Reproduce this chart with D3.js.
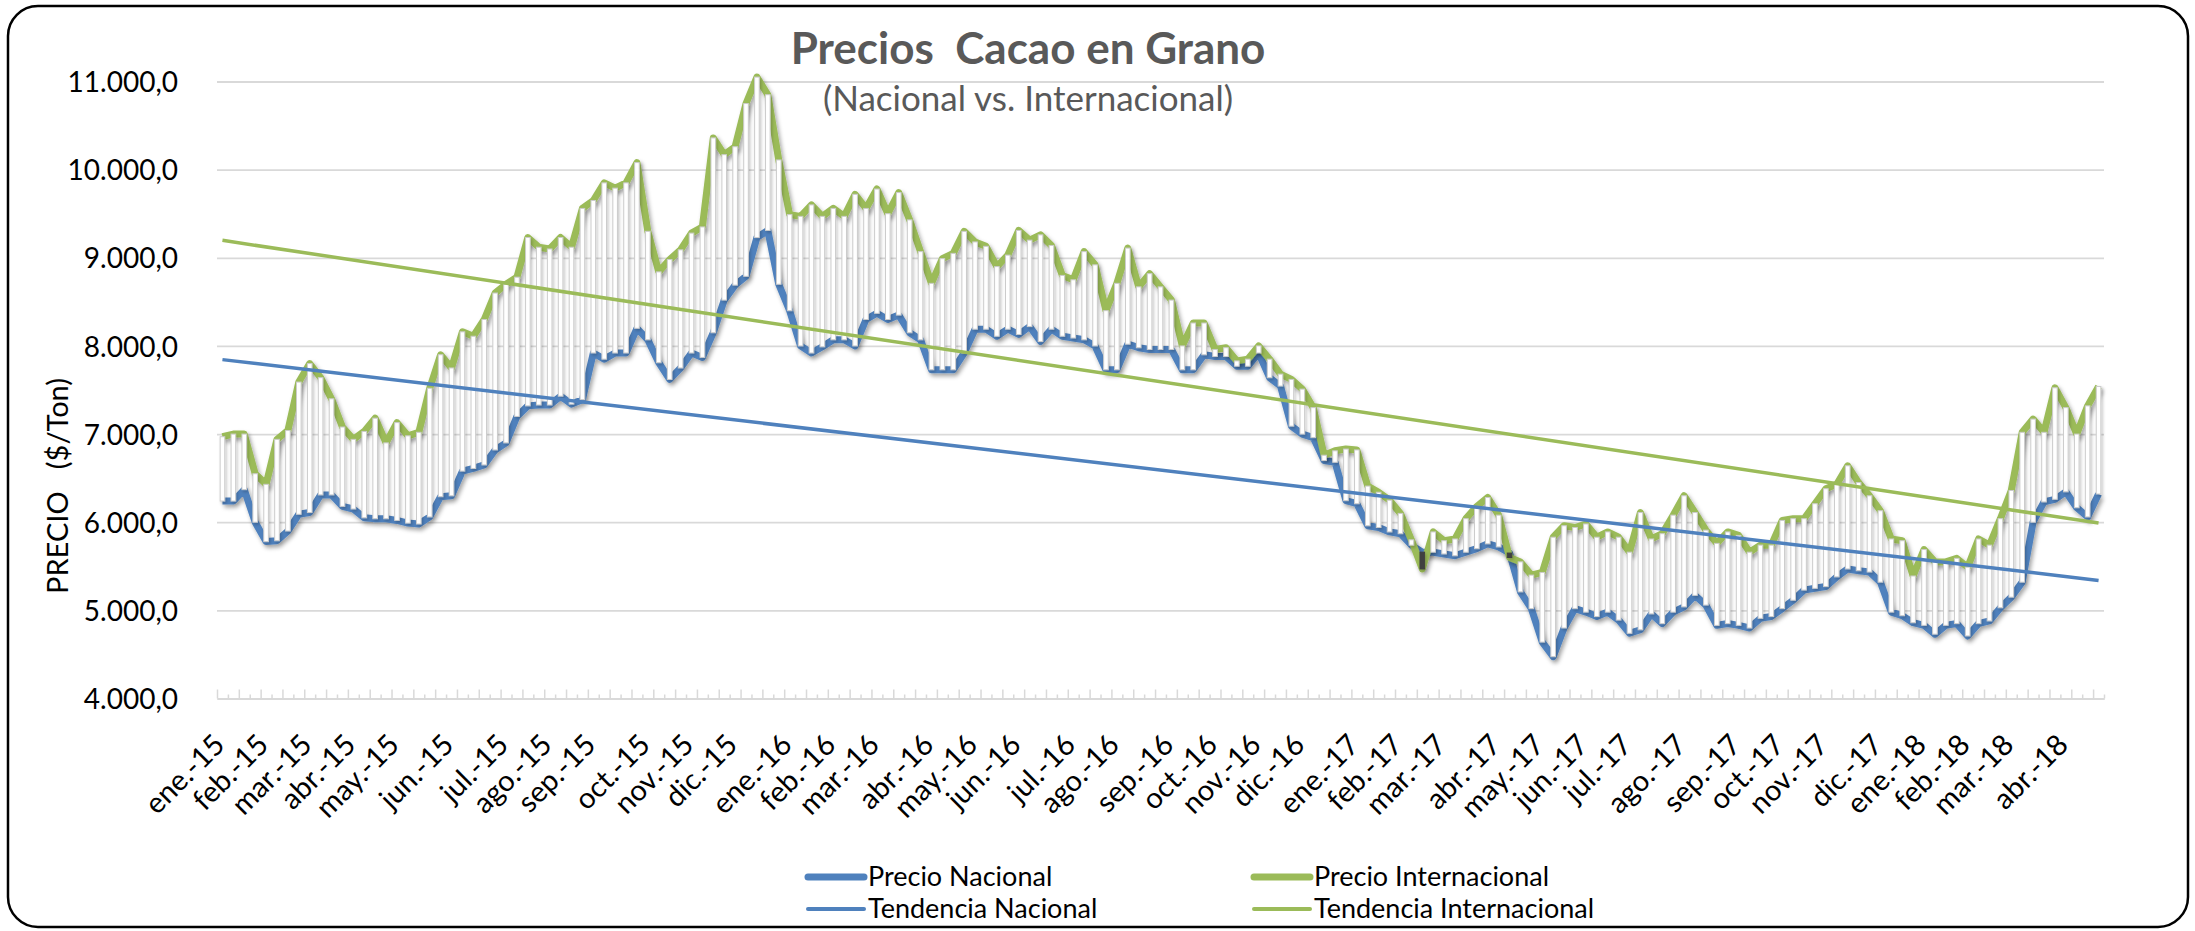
<!DOCTYPE html>
<html>
<head>
<meta charset="utf-8">
<script src="https://cdn.jsdelivr.net/npm/d3@7"></script>
<style>
  body { margin: 0; background: #fff; }
  svg { display: block; font-family: Lato, "Open Sans", sans-serif; }
</style>
</head>
<body>
<svg id="cacao" width="2195" height="931"></svg>
<script>
// month labels shown on the axis (first week of each month)
const months = [
    "ene.-15", "feb.-15", "mar.-15", "abr.-15", "may.-15", "jun.-15", "jul.-15", "ago.-15", "sep.-15", "oct.-15", "nov.-15", "dic.-15",
    "ene.-16", "feb.-16", "mar.-16", "abr.-16", "may.-16", "jun.-16", "jul.-16", "ago.-16", "sep.-16", "oct.-16", "nov.-16", "dic.-16",
    "ene.-17", "feb.-17", "mar.-17", "abr.-17", "may.-17", "jun.-17", "jul.-17", "ago.-17", "sep.-17", "oct.-17", "nov.-17", "dic.-17",
    "ene.-18", "feb.-18", "mar.-18", "abr.-18"];

// weekly points per month
const weeksPerMonth = [
    4, 4, 4, 4, 5, 5, 4, 4, 5, 4, 4, 5,
    4, 4, 5, 4, 4, 5, 4, 5, 4, 4, 4, 5,
    4, 4, 5, 4, 4, 4, 5, 5, 4, 4, 5, 4,
    4, 4, 5, 4];

const precioNacional = [
    6240, 6240, 6370, 6000, 5780, 5790, 5900, 6090, 6110, 6310,
    6310, 6180, 6150, 6050, 6040, 6040, 6020, 5990, 5980, 6060,
    6290, 6300, 6580, 6610, 6650, 6820, 6900, 7200, 7320, 7330,
    7330, 7430, 7340, 7390, 7920, 7850, 7920, 7920, 8200, 8070,
    7810, 7620, 7750, 7920, 7870, 8150, 8520, 8690, 8790, 9230,
    9310, 8700, 8400, 8000, 7920, 7990, 8070, 8070, 8000, 8300,
    8370, 8300, 8350, 8150, 8070, 7730, 7730, 7730, 7920, 8190,
    8190, 8110, 8190, 8130, 8220, 8050, 8190, 8110, 8090, 8070,
    8000, 7730, 7730, 8020, 7980, 7960, 7960, 7960, 7730, 7730,
    7900, 7880, 7880, 7770, 7770, 7920, 7640, 7545, 7090, 7000,
    6960, 6700, 6680, 6245, 6210, 5960, 5940, 5890, 5870, 5740,
    5660, 5660, 5640, 5620, 5660, 5700, 5755, 5720, 5650, 5210,
    5020, 4640, 4475, 4800, 5020, 4980, 4930, 4980, 4890, 4740,
    4780, 4960, 4850, 4980, 5040, 5170, 5060, 4830, 4850, 4830,
    4800, 4910, 4930, 5020, 5115, 5230, 5250, 5270, 5380, 5470,
    5450, 5435, 5320, 4980, 4940, 4860, 4830, 4730, 4830, 4850,
    4710, 4850, 4880, 5030, 5150, 5320, 6000, 6230, 6260, 6345,
    6165, 6060, 6320];

const precioInternacional = [
    6970, 7000, 7000, 6550, 6430, 6940, 7040, 7590, 7800, 7640,
    7400, 7080, 6940, 7030, 7180, 6900, 7130, 6980, 7020, 7520,
    7900, 7750, 8160, 8110, 8300, 8600, 8700, 8780, 9230, 9120,
    9100, 9230, 9120, 9560, 9650, 9850, 9790, 9850, 10080, 9300,
    8840, 8980, 9090, 9280, 9350, 10360, 10170, 10260, 10750, 11050,
    10850, 10110, 9490, 9470, 9600, 9470, 9560, 9470, 9720, 9560,
    9780, 9500, 9740, 9430, 9070, 8710, 8990, 9050, 9300, 9180,
    9130, 8900, 9030, 9310, 9200, 9260, 9140, 8800, 8750, 9070,
    8920, 8400, 8710, 9110, 8670, 8820, 8670, 8520, 8000, 8260,
    8260, 7960, 7980, 7830, 7850, 8000, 7850, 7680, 7620, 7510,
    7300, 6760, 6810, 6830, 6820, 6410, 6340, 6250, 6100, 5800,
    5470, 5890, 5790, 5810, 6040, 6180, 6280, 6080, 5600, 5550,
    5400, 5430, 5830, 5960, 5940, 5980, 5830, 5890, 5830, 5660,
    6110, 5810, 5870, 6080, 6300, 6110, 5910, 5760, 5890, 5850,
    5660, 5740, 5740, 6020, 6040, 6040, 6210, 6380, 6430, 6640,
    6450, 6300, 6130, 5810, 5790, 5390, 5690, 5550, 5550, 5590,
    5490, 5810, 5740, 6040, 6360, 7020, 7170, 7020, 7525, 7300,
    7000, 7320, 7540];

const yTicks = [4000, 5000, 6000, 7000, 8000, 9000, 10000, 11000];

const blue = "#4f81bd";
const green = "#9bbb59";
const font = "Lato, 'Open Sans', sans-serif";

let margin = {top: 81.5, right: 91, bottom: 232.5, left: 217};
let width = 2195 - margin.left - margin.right;
let height = 931 - margin.top - margin.bottom;

let svg = d3.select("#cacao");

let defs = svg.append("defs");
defs.append("filter").attr("id", "shadow")
    .attr("x", "-10%").attr("y", "-10%").attr("width", "120%").attr("height", "130%")
    .append("feDropShadow")
    .attr("dx", 2).attr("dy", 3).attr("stdDeviation", 2)
    .attr("flood-color", "#000").attr("flood-opacity", 0.35);
defs.append("filter").attr("id", "barShadow")
    .attr("x", "-10%").attr("y", "-10%").attr("width", "120%").attr("height", "130%")
    .append("feDropShadow")
    .attr("dx", 1.5).attr("dy", 2).attr("stdDeviation", 1.5)
    .attr("flood-color", "#000").attr("flood-opacity", 0.22);

// outer frame
svg.append("rect")
    .attr("x", 8).attr("y", 6)
    .attr("width", 2180).attr("height", 921)
    .attr("rx", 30).attr("ry", 30)
    .attr("fill", "white")
    .attr("stroke", "black")
    .attr("stroke-width", 2.5);

// one entry per week, label only on the first week of the month
let weeks = [];
months.forEach((m, mi) => {
    for (let w = 0; w < weeksPerMonth[mi]; w++) {
        weeks.push({idx: weeks.length, label: w === 0 ? m : ""});
    }
});

let g = svg.append("g")
    .attr("transform", `translate(${margin.left}, ${margin.top})`);

let x = d3.scaleBand()
    .domain(d3.range(weeks.length))
    .range([0, width])
    .padding(0);
let xc = i => x(i) + x.bandwidth() / 2;
let xEdge = d3.scaleLinear().domain([0, weeks.length]).range([0, width]);

let y = d3.scaleLinear()
    .domain([4000, 11000])
    .range([height, 0]);

// gridlines
let grid = g.append("g")
    .call(d3.axisLeft(y).tickValues(yTicks.slice(1)).tickSize(-width).tickFormat(""));
grid.select(".domain").remove();
grid.selectAll("line").attr("stroke", "#d9d9d9").attr("stroke-width", 1.8);

// y labels
let loc = d3.formatLocale({decimal: ",", thousands: ".", grouping: [3], currency: ["$", ""]});
let fmt = loc.format(",.1f");
let yAxis = g.append("g")
    .attr("transform", "translate(-39,0)")
    .call(d3.axisLeft(y).tickValues(yTicks).tickSize(0).tickPadding(0).tickFormat(fmt))
    .attr("font-family", font);
yAxis.select(".domain").remove();
yAxis.selectAll("text")
    .style("font-size", "28px")
    .attr("fill", "#000")
    .attr("dy", "0.36em");

// x axis with alternating tick marks
let major = g.append("g")
    .attr("transform", `translate(0,${height})`)
    .call(d3.axisTop(xEdge).tickValues(d3.range(0, weeks.length + 1, 2)).tickSize(9).tickSizeOuter(0).tickFormat(""));
let minor = g.append("g")
    .attr("transform", `translate(0,${height})`)
    .call(d3.axisTop(xEdge).tickValues(d3.range(1, weeks.length + 1, 2)).tickSize(4).tickSizeOuter(0).tickFormat(""));
[major, minor].forEach(a => {
    a.selectAll("line").attr("stroke", "#d9d9d9").attr("stroke-width", 1.5);
    a.select(".domain").attr("stroke", "#d9d9d9").attr("stroke-width", 2.2);
});

let xLabels = g.append("g")
    .attr("transform", `translate(0,${height})`)
    .call(d3.axisBottom(x)
        .tickValues(weeks.filter(d => d.label).map(d => d.idx))
        .tickFormat(i => weeks[i].label)
        .tickSize(0))
    .attr("font-family", font);
xLabels.select(".domain").remove();
xLabels.selectAll("text")
    .style("font-size", "29px")
    .attr("fill", "#000")
    .attr("text-anchor", "end")
    .attr("x", 0).attr("y", 0).attr("dy", 0)
    .attr("transform", "translate(4,48) rotate(-45)");

// price lines
let line = d3.line()
    .x((d, i) => xc(i))
    .y(d => y(d));

g.append("path")
    .datum(precioNacional)
    .attr("d", line)
    .attr("fill", "none")
    .attr("stroke", blue)
    .attr("stroke-width", 7)
    .attr("stroke-linejoin", "round")
    .attr("filter", "url(#shadow)");

g.append("path")
    .datum(precioInternacional)
    .attr("d", line)
    .attr("fill", "none")
    .attr("stroke", green)
    .attr("stroke-width", 7)
    .attr("stroke-linejoin", "round")
    .attr("filter", "url(#shadow)");

// up / down bars between the two series
let barW = 4.6;
g.append("g")
    .attr("filter", "url(#barShadow)")
    .selectAll("rect")
    .data(precioNacional.map((v, i) => ({i: i, nac: v, int: precioInternacional[i]})))
    .join("rect")
    .attr("x", d => xc(d.i) - barW / 2)
    .attr("y", d => y(Math.max(d.nac, d.int)))
    .attr("width", barW)
    .attr("height", d => Math.abs(y(d.nac) - y(d.int)))
    .attr("fill", d => d.int >= d.nac ? "white" : "#404040")
    .attr("stroke", d => d.int >= d.nac ? "#cccccc" : "#404040")
    .attr("stroke-width", 1);

// linear trend (least squares over the weeks)
function trend(vals) {
    let n = vals.length;
    let mx = d3.mean(vals, (d, i) => i);
    let my = d3.mean(vals);
    let sxy = d3.sum(vals, (d, i) => (i - mx) * (d - my));
    let sxx = d3.sum(vals, (d, i) => (i - mx) * (i - mx));
    let b = sxy / sxx;
    let a = my - b * mx;
    return [[0, a], [n - 1, a + b * (n - 1)]];
}
let trendLine = d3.line().x(d => xc(d[0])).y(d => y(d[1]));

g.append("path")
    .datum(trend(precioNacional))
    .attr("d", trendLine)
    .attr("stroke", blue)
    .attr("stroke-width", 3.5)
    .attr("fill", "none");

g.append("path")
    .datum(trend(precioInternacional))
    .attr("d", trendLine)
    .attr("stroke", green)
    .attr("stroke-width", 3.5)
    .attr("fill", "none");

// titles
svg.append("text")
    .attr("x", 1028).attr("y", 64)
    .attr("text-anchor", "middle")
    .style("font-size", "44px")
    .style("font-weight", "bold")
    .style("white-space", "pre")
    .attr("fill", "#595959")
    .text("Precios  Cacao en Grano");

svg.append("text")
    .attr("x", 1028).attr("y", 111)
    .attr("text-anchor", "middle")
    .style("font-size", "35px")
    .attr("fill", "#595959")
    .text("(Nacional vs. Internacional)");

svg.append("text")
    .attr("transform", "translate(68,486) rotate(-90)")
    .attr("text-anchor", "middle")
    .style("font-size", "29px")
    .style("white-space", "pre")
    .attr("fill", "#000")
    .text("PRECIO   ($/Ton)");

// legend
const legendItems = [
    {name: "Precio Nacional", color: blue, w: 7, x: 808, y: 877},
    {name: "Tendencia Nacional", color: blue, w: 4, x: 808, y: 909},
    {name: "Precio Internacional", color: green, w: 7, x: 1254, y: 877},
    {name: "Tendencia Internacional", color: green, w: 4, x: 1254, y: 909}
];
let legend = svg.append("g");
legendItems.forEach(d => {
    legend.append("line")
        .attr("x1", d.x).attr("x2", d.x + 56)
        .attr("y1", d.y).attr("y2", d.y)
        .attr("stroke", d.color)
        .attr("stroke-width", d.w)
        .attr("stroke-linecap", "round");
    legend.append("text")
        .attr("x", d.x + 60).attr("y", d.y)
        .attr("dy", "0.35em")
        .style("font-size", "27px")
        .attr("fill", "#000")
        .text(d.name);
});
</script>
</body>
</html>
